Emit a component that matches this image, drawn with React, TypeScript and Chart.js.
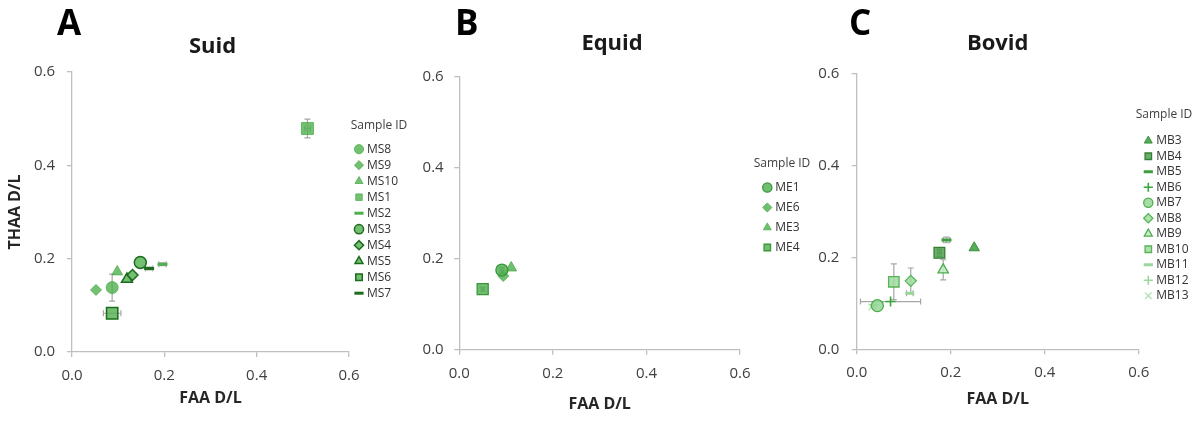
import React, { useEffect, useRef } from 'react';
import { Chart, registerables } from 'chart.js';

Chart.register(...registerables);
Chart.defaults.font.family = "'Open Sans', sans-serif";

// ---------- data ----------
const axisTicks = [0, 0.2, 0.4, 0.6];
const panelLetters = ['A', 'B', 'C'];
const panelTitles = ['Suid', 'Equid', 'Bovid'];
const xAxisTitle = 'FAA D/L';
const yAxisTitle = 'THAA D/L';
const legendTitle = 'Sample ID';

// Panel A — Suid
const suidIds = ['MS8', 'MS9', 'MS10', 'MS1', 'MS2', 'MS3', 'MS4', 'MS5', 'MS6', 'MS7'];
const suidFaa = [0.087, 0.052, 0.098, 0.51, 0.196, 0.148, 0.131, 0.119, 0.087, 0.167];
const suidThaa = [0.138, 0.133, 0.172, 0.479, 0.188, 0.192, 0.165, 0.156, 0.083, 0.179];
const suidFaaErr = [0, 0, 0, 0.006, 0.008, 0, 0, 0, 0.019, 0.008];
const suidThaaErr = [0.029, 0, 0, 0.02, 0.003, 0, 0, 0, 0, 0.003];

// Panel B — Equid
const equidIds = ['ME1', 'ME6', 'ME3', 'ME4'];
const equidFaa = [0.091, 0.094, 0.111, 0.05];
const equidThaa = [0.175, 0.162, 0.18, 0.133];
const equidFaaErr = [0.004, 0, 0, 0.003];
const equidThaaErr = [0.006, 0, 0, 0.004];

// Panel C — Bovid
const bovidIds = ['MB3', 'MB4', 'MB5', 'MB6', 'MB7', 'MB8', 'MB9', 'MB10', 'MB11', 'MB12', 'MB13'];
const bovidFaa = [0.25, 0.176, 0.191, 0.072, 0.044, 0.115, 0.184, 0.079, 0.113, 0.038, 0.032];
const bovidThaa = [0.221, 0.21, 0.238, 0.104, 0.095, 0.149, 0.173, 0.147, 0.122, 0.097, 0.092];
const bovidFaaErr = [0, 0.004, 0.007, 0.064, 0, 0, 0, 0, 0.007, 0, 0];
const bovidThaaErr = [0, 0.008, 0.006, 0, 0, 0.028, 0.022, 0.039, 0, 0, 0];

// ---------- styles ----------
const LIGHT_A = 'rgba(80,176,80,0.8)';
const DARK_A = '#1d6b1d';
const suidStyle = {
  shape: ['circle', 'rectRot', 'triangle', 'rect', 'line', 'circle', 'rectRot', 'triangle', 'rect', 'line'],
  radius: [6, 5.5, 6.3, 8.5, 5, 6, 5.5, 6.3, 8, 5],
  fill: [LIGHT_A, LIGHT_A, LIGHT_A, LIGHT_A, LIGHT_A, LIGHT_A, LIGHT_A, LIGHT_A, LIGHT_A, DARK_A],
  stroke: [LIGHT_A, LIGHT_A, LIGHT_A, LIGHT_A, '#4fae4f', DARK_A, DARK_A, DARK_A, DARK_A, DARK_A],
  width: [1, 1, 1, 1, 3, 1.5, 1.5, 1.5, 1.5, 3],
};
const MID_B = 'rgba(76,174,76,0.8)';
const equidStyle = {
  shape: ['circle', 'rectRot', 'triangle', 'rect'],
  radius: [6, 5.5, 6.3, 7.8],
  fill: [MID_B, MID_B, MID_B, MID_B],
  stroke: ['#3a963a', MID_B, MID_B, '#3a963a'],
  width: [1.3, 1, 1, 1.3],
};
const bovidStyle = {
  shape: ['triangle', 'rect', 'line', 'cross', 'circle', 'rectRot', 'triangle', 'rect', 'line', 'cross', 'crossRot'],
  radius: [6, 7.6, 5, 5, 6, 5.5, 6, 7.4, 4.5, 4.5, 4.5],
  fill: [
    'rgba(58,158,58,0.85)', 'rgba(66,156,66,0.8)', '#3e9e3e', '#3aa63a',
    'rgba(150,214,150,0.85)', 'rgba(160,220,160,0.85)', 'rgba(196,234,196,0.85)',
    'rgba(160,218,160,0.85)', '#9ad79a', '#9ad99a', '#b4e2b4',
  ],
  stroke: [
    '#3a8f3a', '#357f35', '#3e9e3e', '#3aa63a',
    '#4cae4c', '#54b454', '#4cae4c', '#56b456', '#9ad79a', '#9ad99a', '#b4e2b4',
  ],
  width: [1, 1.3, 3, 1.6, 1.3, 1.3, 1.3, 1.3, 3, 1.6, 1.4],
};

// ---------- plugins ----------
const errorBars = {
  id: 'errorBars',
  beforeDatasetsDraw(chart: any) {
    const { ctx } = chart;
    const xs = chart.scales.x;
    const ys = chart.scales.y;
    const cap = 3;
    ctx.save();
    ctx.strokeStyle = '#a6a6a6';
    ctx.lineWidth = 1.2;
    chart.data.datasets.forEach((ds: any) => {
      ds.data.forEach((p: any) => {
        const px = xs.getPixelForValue(p.x);
        const py = ys.getPixelForValue(p.y);
        ctx.beginPath();
        if (p.xErr) {
          const x1 = xs.getPixelForValue(p.x - p.xErr);
          const x2 = xs.getPixelForValue(p.x + p.xErr);
          ctx.moveTo(x1, py); ctx.lineTo(x2, py);
          ctx.moveTo(x1, py - cap); ctx.lineTo(x1, py + cap);
          ctx.moveTo(x2, py - cap); ctx.lineTo(x2, py + cap);
        }
        if (p.yErr) {
          const y1 = ys.getPixelForValue(p.y - p.yErr);
          const y2 = ys.getPixelForValue(p.y + p.yErr);
          ctx.moveTo(px, y1); ctx.lineTo(px, y2);
          ctx.moveTo(px - cap, y1); ctx.lineTo(px + cap, y1);
          ctx.moveTo(px - cap, y2); ctx.lineTo(px + cap, y2);
        }
        ctx.stroke();
      });
    });
    ctx.restore();
  },
};

// moves the legend / title boxes after layout and lets the legend draw unclipped
const boxShift = {
  id: 'boxShift',
  afterLayout(chart: any, _args: any, opts: any) {
    const lg = chart.legend;
    if (lg) {
      lg.left += opts.legendDx; lg.right += opts.legendDx;
      lg.top += opts.legendDy; lg.bottom += opts.legendDy;
      if (!lg.__noClip) {
        lg.__noClip = true;
        lg.draw = function () { if (this.options.display) this._draw(); };
      }
    }
    const tb = chart.titleBlock;
    if (tb) { tb.left += opts.titleDx; tb.right += opts.titleDx; }
  },
};

// ---------- panel layouts ----------
const layouts = [
  { left: 0, width: 410, yW: 72, xH: 69, yPad: 12, xPad: 10, tTop: 33.8, tBot: 11.8, xtBot: 13.4,
    lgPad: 4, lgTB: 5, lgW: 52, padR: 9, lgDx: 4, lgDy: 1, tDx: 2, yTitle: true, letterX: 57 },
  { left: 400, width: 420, yW: 59.3, xH: 71.3, yPad: 10.6, xPad: 9.6, tTop: 30.3, tBot: 20, xtBot: 7.4,
    lgPad: 8, lgTB: 1.6, lgW: 49.4, padR: 30.6, lgDx: 17.3, lgDy: -1, tDx: 12.4, yTitle: false, letterX: 455 },
  { left: 790, width: 410, yW: 66.7, xH: 71.7, yPad: 12.4, xPad: 9.4, tTop: 30.3, tBot: 17, xtBot: 12.1,
    lgPad: 3.5, lgTB: 8.5, lgW: 42.4, padR: 18.9, lgDx: 4.1, lgDy: -3.7, tDx: 0, yTitle: false, letterX: 849 },
];

type PanelProps = {
  ids: string[]; faa: number[]; thaa: number[]; faaErr: number[]; thaaErr: number[];
  style: any; lay: any; title: string;
};

function Panel({ ids, faa, thaa, faaErr, thaaErr, style, lay, title }: PanelProps) {
  const ref = useRef<HTMLCanvasElement>(null);
  useEffect(() => {
    const datasets = ids.map((id, i) => ({
      label: id,
      data: [{ x: faa[i], y: thaa[i], xErr: faaErr[i], yErr: thaaErr[i] }],
      pointStyle: style.shape[i],
      pointRadius: style.radius[i],
      pointHoverRadius: style.radius[i],
      backgroundColor: style.fill[i],
      borderColor: style.stroke[i],
      borderWidth: style.width[i],
      pointBackgroundColor: style.fill[i],
      pointBorderColor: style.stroke[i],
      pointBorderWidth: style.width[i],
      showLine: false,
    }));
    const axisColor = '#bfbfbf';
    const tickColor = '#404040';
    const setTicks = (s: any) => { s.ticks = axisTicks.map((v) => ({ value: v })); };
    const chart = new Chart(ref.current as HTMLCanvasElement, {
      type: 'scatter',
      data: { datasets } as any,
      options: {
        animation: false,
        responsive: true,
        maintainAspectRatio: false,
        events: [],
        layout: { padding: { left: 0, top: 0, bottom: 0, right: lay.padR } },
        scales: {
          x: {
            type: 'linear', min: 0, max: 0.6,
            afterBuildTicks: setTicks,
            afterFit: (s: any) => { s.height = lay.xH; },
            grid: { drawOnChartArea: false, drawTicks: true, tickLength: 5, color: axisColor, lineWidth: 1.3 },
            border: { display: true, color: axisColor, width: 1.3 },
            ticks: { padding: lay.xPad, color: tickColor, font: { size: 15 },
              callback: (v: any) => Number(v).toFixed(1), maxRotation: 0 },
            title: { display: true, text: xAxisTitle, color: '#262626',
              font: { size: 16, weight: 'bold' }, padding: { top: 4, bottom: lay.xtBot } },
          },
          y: {
            type: 'linear', min: 0, max: 0.6,
            afterBuildTicks: setTicks,
            afterFit: (s: any) => { s.width = lay.yW; },
            grid: { drawOnChartArea: false, drawTicks: true, tickLength: 5, color: axisColor, lineWidth: 1.3 },
            border: { display: true, color: axisColor, width: 1.3 },
            ticks: { padding: lay.yPad, color: tickColor, font: { size: 15 },
              callback: (v: any) => Number(v).toFixed(1) },
            title: { display: lay.yTitle, text: yAxisTitle, color: '#262626',
              font: { size: 16, weight: 'bold' }, padding: { top: 5.4, bottom: 0 } },
          },
        },
        plugins: {
          tooltip: { enabled: false },
          title: {
            display: true, text: title, fullSize: false, color: '#1a1a1a',
            font: { size: 22, weight: 'bold' }, padding: { top: lay.tTop, bottom: lay.tBot },
          },
          legend: {
            display: true, position: 'right', align: 'center', maxWidth: lay.lgW,
            title: { display: true, text: legendTitle, color: '#404040',
              font: { size: 12 }, padding: { top: 0, bottom: lay.lgTB } },
            labels: { usePointStyle: true, boxWidth: 4, boxHeight: 6.5, padding: lay.lgPad,
              color: '#333333', font: { size: 12 } },
          },
          boxShift: { legendDx: lay.lgDx, legendDy: lay.lgDy, titleDx: lay.tDx },
        } as any,
      },
      plugins: [errorBars, boxShift],
    });
    return () => chart.destroy();
  }, []);
  return (
    <div style={{ position: 'absolute', left: lay.left, top: 0, width: lay.width, height: 421 }}>
      <canvas ref={ref} />
    </div>
  );
}

export default function App() {
  return (
    <div style={{ position: 'absolute', left: 0, top: 0, width: 1200, height: 421, background: '#fff', overflow: 'hidden' }}>
      <Panel ids={suidIds} faa={suidFaa} thaa={suidThaa} faaErr={suidFaaErr} thaaErr={suidThaaErr}
        style={suidStyle} lay={layouts[0]} title={panelTitles[0]} />
      <Panel ids={equidIds} faa={equidFaa} thaa={equidThaa} faaErr={equidFaaErr} thaaErr={equidThaaErr}
        style={equidStyle} lay={layouts[1]} title={panelTitles[1]} />
      <Panel ids={bovidIds} faa={bovidFaa} thaa={bovidThaa} faaErr={bovidFaaErr} thaaErr={bovidThaaErr}
        style={bovidStyle} lay={layouts[2]} title={panelTitles[2]} />
      {layouts.map((lay, i) => (
        <div key={panelLetters[i]} style={{
          position: 'absolute', left: lay.letterX, top: 4, fontFamily: "'Open Sans', sans-serif",
          fontWeight: 700, fontSize: 35, lineHeight: '35px', color: '#000',
        }}>{panelLetters[i]}</div>
      ))}
    </div>
  );
}
